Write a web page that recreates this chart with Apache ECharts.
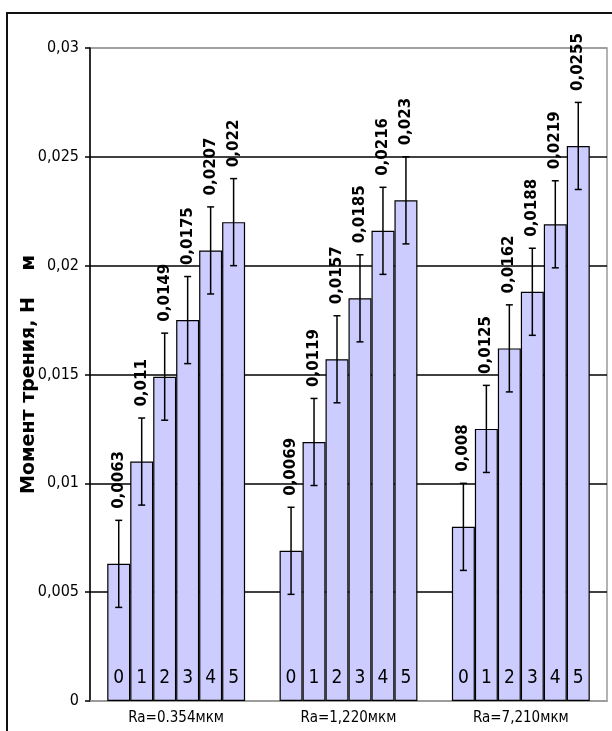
<!DOCTYPE html>
<html><head><meta charset="utf-8">
<script src="https://cdn.jsdelivr.net/npm/echarts@6/dist/echarts.min.js"></script>
<style>html,body{margin:0;padding:0;background:#fff}#c{width:612px;height:731px}</style>
</head><body><div id="c"></div>
<script>
const categories = ['Ra=0.354мкм', 'Ra=1,220мкм', 'Ra=7,210мкм'];
const seriesNames = ['0', '1', '2', '3', '4', '5'];
const s0 = [0.0063, 0.0069, 0.008];
const s1 = [0.011, 0.0119, 0.0125];
const s2 = [0.0149, 0.0157, 0.0162];
const s3 = [0.0175, 0.0185, 0.0188];
const s4 = [0.0207, 0.0216, 0.0219];
const s5 = [0.022, 0.023, 0.0255];
const errorSize = 0.002;
const yMin = 0, yMax = 0.03, yStep = 0.005;
const yTitle = 'Момент трения, Н    м';

const narrow = "'Liberation Sans Narrow','DejaVu Sans Condensed','Liberation Sans'";
const allValues = [s0, s1, s2, s3, s4, s5];
const nSeries = allValues.length;
const catGap = 0.2;
const fmt = v => String(+v.toFixed(4)).replace('.', ',');

const chart = echarts.init(document.getElementById('c'));
const series = [];
allValues.forEach((vals, i) => {
  series.push({
    type: 'bar', name: seriesNames[i], data: vals,
    barGap: 0, barCategoryGap: '20%',
    itemStyle: { color: '#CCCCFF', borderColor: '#000', borderWidth: 1.2 },
    label: {
      show: true, position: 'top', rotate: 90, align: 'left', verticalAlign: 'middle',
      distance: 55, formatter: p => fmt(p.value),
      fontFamily: 'DejaVu Sans', fontWeight: 'bold', fontSize: 15, color: '#000'
    },
    z: 2
  });
});
allValues.forEach((vals, i) => {
  series.push({
    type: 'custom', name: 'err' + i, z: 5,
    data: vals.map((v, k) => [k, v]),
    encode: { x: 0, y: 1 },
    renderItem: (params, api) => {
      const k = api.value(0), v = api.value(1);
      const c = api.coord([k, v]);
      const band = api.size([1, 0])[0];
      const bw = band * (1 - catGap) / nSeries;
      const x = c[0] + (i - (nSeries - 1) / 2) * bw;
      const top = api.coord([k, v + errorSize])[1];
      const bot = api.coord([k, v - errorSize])[1];
      const base = api.coord([k, 0])[1];
      const ls = { stroke: '#000', lineWidth: 1.5 };
      return { type: 'group', children: [
        { type: 'line', shape: { x1: x, y1: top, x2: x, y2: bot }, style: ls },
        { type: 'line', shape: { x1: x - 3.5, y1: top, x2: x + 3.5, y2: top }, style: ls },
        { type: 'line', shape: { x1: x - 3.5, y1: bot, x2: x + 3.5, y2: bot }, style: ls },
        { type: 'text', style: { text: seriesNames[i], x: x, y: base - 23, align: 'center', verticalAlign: 'middle',
          font: "19px " + narrow, fill: '#000' } }
      ]};
    }
  });
});

chart.setOption({
  animation: false,
  backgroundColor: '#fff',
  grid: { left: 90, right: 5, top: 48, bottom: 30, show: true, borderColor: '#9a9a9a', borderWidth: 1.5 },
  xAxis: {
    type: 'category', data: categories,
    axisTick: { show: false },
    axisLine: { lineStyle: { color: '#9a9a9a', width: 1.5 } },
    axisLabel: { margin: 10, fontFamily: narrow, fontSize: 15, color: '#000' }
  },
  yAxis: {
    type: 'value', min: yMin, max: yMax, interval: yStep,
    name: yTitle, nameLocation: 'middle', nameGap: 51, nameRotate: 90, nameMoveOverlap: false,
    nameTextStyle: { fontFamily: 'DejaVu Sans', fontWeight: 'bold', fontSize: 19, color: '#000' },
    axisLine: { show: true, lineStyle: { color: '#000', width: 1.5 } },
    axisTick: { show: true, length: 5, lineStyle: { color: '#000', width: 1.5 } },
    axisLabel: { margin: 11, formatter: v => v === 0 ? '0' : fmt(v), fontFamily: narrow, fontSize: 16, color: '#000' },
    splitLine: { show: true, lineStyle: { color: ['#9a9a9a', '#000', '#000', '#000', '#000', '#000', '#9a9a9a'], width: 1.6 } }
  },
  graphic: [{ type: 'rect', silent: true, z: -10, shape: { x: 7, y: 13, width: 700, height: 800 },
    style: { fill: null, stroke: '#111', lineWidth: 2 } }],
  series: series
});
</script></body></html>
